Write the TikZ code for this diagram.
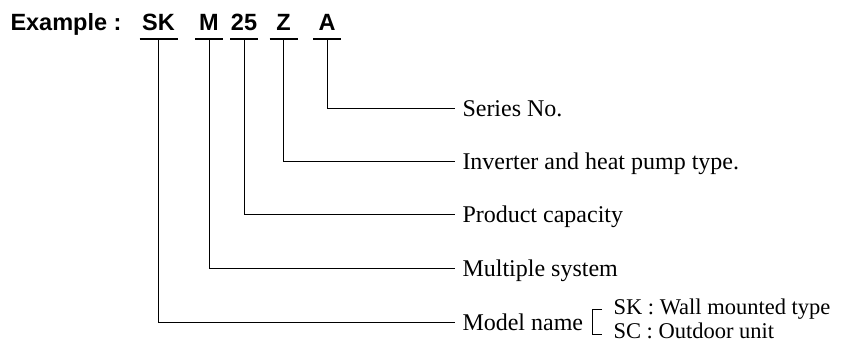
\documentclass[tikz,border=0pt]{standalone}
\usepackage{fontspec}
\setmainfont{Liberation Serif}
\newfontfamily\headfont{Liberation Sans}
\tikzstyle{codepart}=[anchor=south, inner xsep=0pt, inner ysep=8pt, text depth=0pt, minimum width=27pt, font=\headfont\bfseries\fontsize{23.5}{27}\selectfont]
\tikzstyle{lbltext}=[anchor=west, inner xsep=7pt, inner ysep=0pt, text height=16pt, text depth=0pt, font=\fontsize{24}{28}\selectfont]
\tikzstyle{typetext}=[anchor=base west, inner sep=0pt, font=\fontsize{22.5}{24}\selectfont]
\tikzstyle{uline}=[line width=2pt]
\newcommand{\codepart}{\node[codepart]}
\newcommand{\lbl}{\node[lbltext]}

\begin{document}
\begin{tikzpicture}[x=1pt,y=-1pt,line width=1pt]
\useasboundingbox (0,0) rectangle (845,344);
\node[anchor=base west, inner sep=0pt, font=\headfont\bfseries\fontsize{23.5}{27}\selectfont] (example) at (10,31) {Example :};
\codepart[minimum width=37pt] (sk) at (158.5,39) {SK};
\codepart (mult) at (209,39) {M};
\codepart (cap) at (244,39) {25};
\codepart (inv) at (283.5,39) {Z};
\codepart (ser) at (327,39) {A};
\foreach \n in {sk,mult,cap,inv,ser}
  \draw[uline] (\n.south west) -- (\n.south east);
\lbl (series) at (455,109) {Series No.};
\lbl (invtype) at (455,162) {Inverter and heat pump type.};
\lbl (capacity) at (455,215) {Product capacity};
\lbl (multiple) at (455,269) {Multiple system};
\lbl (model) at (455,322) {Model name};
\draw (ser.south) |- (series.west);
\draw (inv.south) |- (invtype.west);
\draw (cap.south) |- (capacity.west);
\draw (mult.south) |- (multiple.west);
\draw (sk.south) |- (model.west);
% bracket
\draw (602,309) -- (592,309) -- (592,334) -- (602,334);
\node[typetext] (wall) at (613,315) {SK : Wall mounted type};
\node[typetext] (outdoor) at (613,338) {SC : Outdoor unit};
\end{tikzpicture}
\end{document}
